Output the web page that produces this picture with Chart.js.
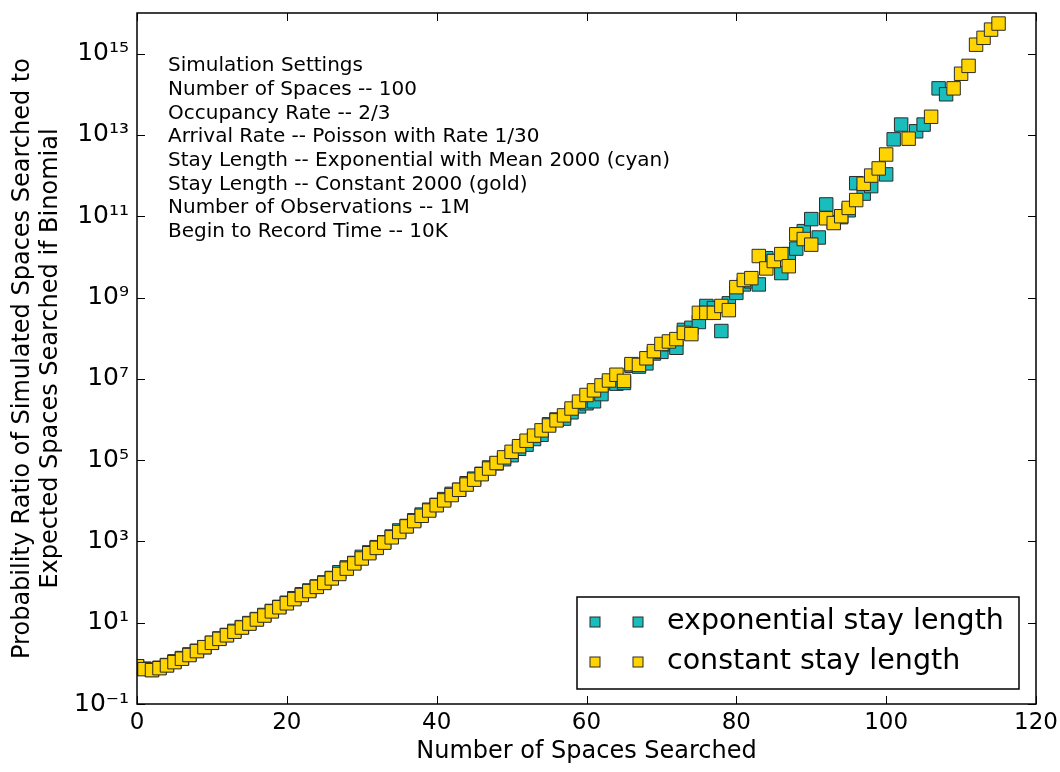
<!DOCTYPE html>
<html><head><meta charset="utf-8">
<script src="https://cdn.jsdelivr.net/npm/chart.js@4.4.1/dist/chart.umd.min.js"></script>
<style>html,body{margin:0;padding:0;background:#fff}#wrap{width:1060px;height:772px;position:relative}</style>
</head><body><div id="wrap"><canvas id="c" width="1060" height="772"></canvas></div>
<script>
// ---- data ----
const spacesSearched = [
  0,1,2,3,4,5,6,7,8,9,10,11,12,13,14,15,16,17,18,19,
  20,21,22,23,24,25,26,27,28,29,30,31,32,33,34,35,36,37,38,39,
  40,41,42,43,44,45,46,47,48,49,50,51,52,53,54,55,56,57,58,59,
  60,61,62,63,64,65,66,67,68,69,70,71,72,73,74,75,76,77,78,79,
  80,81,82,83,84,85,86,87,88,89,90,91,92,93,94,95,96,97,98,99,
  100,101,102,103,104,105,106,107,108,109,110,111,112,113,114,115
];
const exponentialStay = [
  0.85,0.74,0.69,0.78,0.91,1.12,1.35,1.66,2.04,2.5,3.2,4.1,5.0,6.3,7.8,9.8,12.3,15.5,19.5,24.5,
  31,40,50,62,78,98,126,174,229,295,417,537,724,955,1320,1860,2400,3310,4570,6030,
  7940,1.1e4,1.48e4,1.86e4,2.7e4,3.5e4,4.6e4,6.6e4,8.3e4,1.05e5,1.32e5,1.9e5,2.4e5,3.3e5,4.2e5,7.6e5,1.0e6,1.05e6,1.5e6,2.1e6,
  2.5e6,2.8e6,4.2e6,7.9e6,7.6e6,7.9e6,2.1e7,2.0e7,2.4e7,4.2e7,4.6e7,7.1e7,5.8e7,1.6e8,1.8e8,2.5e8,6.2e8,5.5e8,1.5e8,7.2e8,
  1.3e9,2.1e9,2.5e9,2.1e9,9.3e9,7.9e9,4.0e9,1.17e10,1.6e10,4.3e10,8.5e10,3.0e10,1.95e11,7.1e10,9.5e10,1.4e11,6.5e11,3.6e11,5.5e11,null,
  1.07e12,7.8e12,1.8e13,null,1.23e13,1.8e13,null,1.4e14,1.0e14,null,null,null,null,null,null,null
];
const constantStay = [
  0.85,0.72,0.68,0.76,0.89,1.07,1.3,1.6,2.0,2.5,3.2,4.0,4.9,6.0,7.6,9.5,12,15,19,24,
  30,38,48,60,76,95,123,158,214,288,380,513,692,933,1260,1700,2340,3160,4270,5750,
  7760,1.02e4,1.38e4,1.86e4,2.5e4,3.3e4,4.5e4,6.2e4,8.5e4,1.17e5,1.6e5,2.2e5,3.0e5,4.0e5,5.4e5,7.1e5,9.5e5,1.26e6,1.86e6,2.75e6,
  4.0e6,5.2e6,6.9e6,9.1e6,1.26e7,8.9e6,2.3e7,2.2e7,3.2e7,4.8e7,7.2e7,8.3e7,9.5e7,1.35e8,1.26e8,4.2e8,4.2e8,4.2e8,6.2e8,4.9e8,
  1.8e9,2.7e9,3.0e9,1.05e10,5.2e9,7.9e9,1.17e10,5.9e9,3.6e10,2.75e10,2.0e10,null,8.9e10,6.8e10,1.0e11,1.6e11,2.5e11,6.3e11,1.0e12,1.5e12,
  3.3e12,null,null,8.1e12,null,null,2.8e13,null,null,1.4e14,3.2e14,5.0e14,1.66e15,2.45e15,3.9e15,5.5e15
];
const seriesLabels = ['exponential stay length', 'constant stay length'];
const xTickValues = [0, 20, 40, 60, 80, 100, 120];
const yTickValues = [1e-1, 1e1, 1e3, 1e5, 1e7, 1e9, 1e11, 1e13, 1e15];
const settingsLines = [
  'Simulation Settings',
  'Number of Spaces -- 100',
  'Occupancy Rate -- 2/3',
  'Arrival Rate -- Poisson with Rate 1/30',
  'Stay Length -- Exponential with Mean 2000 (cyan)',
  'Stay Length -- Constant 2000 (gold)',
  'Number of Observations -- 1M',
  'Begin to Record Time -- 10K'
];
const xTitle = 'Number of Spaces Searched';
const yTitle = ['Probability Ratio of Simulated Spaces Searched to', 'Expected Spaces Searched if Binomial'];

// ---- styling ----
const FONT = 'DejaVu Sans';
const CYAN = '#19BDBC';
const GOLD = '#FFD400';
const EDGE = '#2b2b2b';

const SUP = {'0':'\u2070','1':'\u00B9','2':'\u00B2','3':'\u00B3','4':'\u2074','5':'\u2075','6':'\u2076','7':'\u2077','8':'\u2078','9':'\u2079','-':'\u207B'};
function powLabel(v) {
  const e = Math.round(Math.log10(v));
  return '10' + String(e).split('').map(c => SUP[c]).join('');
}
function toPoints(vals) {
  return spacesSearched.map((x, i) => ({ x: x, y: vals[i] }));
}

const framePlugin = {
  id: 'frame',
  afterDraw(chart) {
    const { ctx, chartArea: a, scales } = chart;
    ctx.save();
    ctx.strokeStyle = '#000';
    ctx.lineWidth = 1;
    const tl = 8;
    scales.x.ticks.forEach(t => {
      const px = Math.round(scales.x.getPixelForValue(t.value)) + 0.5;
      ctx.beginPath();
      ctx.moveTo(px, a.bottom); ctx.lineTo(px, a.bottom - tl);
      ctx.moveTo(px, a.top); ctx.lineTo(px, a.top + tl);
      ctx.stroke();
    });
    scales.y.ticks.forEach(t => {
      const py = Math.round(scales.y.getPixelForValue(t.value)) + 0.5;
      ctx.beginPath();
      ctx.moveTo(a.left, py); ctx.lineTo(a.left + tl, py);
      ctx.moveTo(a.right, py); ctx.lineTo(a.right - tl, py);
      ctx.stroke();
    });
    ctx.lineWidth = 1.5;
    ctx.strokeRect(a.left, a.top, a.right - a.left, a.bottom - a.top);

    // settings annotation
    ctx.fillStyle = '#000';
    ctx.font = '20px "' + FONT + '"';
    ctx.textBaseline = 'middle';
    ctx.textAlign = 'left';
    settingsLines.forEach((s, i) => ctx.fillText(s, a.left + 31, a.top + 53 + i * 23.7));

    // legend
    const lx = 577, ly = 597, lw = 442, lh = 92;
    ctx.fillStyle = '#fff';
    ctx.fillRect(lx, ly, lw, lh);
    ctx.lineWidth = 1.5;
    ctx.strokeStyle = '#000';
    ctx.strokeRect(lx, ly, lw, lh);
    ctx.font = '28.5px "' + FONT + '"';
    chart.data.datasets.forEach((ds, i) => {
      const cy = ly + 25 + i * 40;
      [595, 638].forEach(mx => {
        ctx.fillStyle = ds.backgroundColor;
        ctx.fillRect(mx - 5, cy - 5, 10, 10);
        ctx.lineWidth = 1;
        ctx.strokeStyle = EDGE;
        ctx.strokeRect(mx - 5, cy - 5, 10, 10);
      });
      ctx.fillStyle = '#000';
      ctx.fillText(ds.label, 667, cy);
    });
    ctx.restore();
  }
};

new Chart(document.getElementById('c'), {
  type: 'scatter',
  data: {
    datasets: [
      { label: seriesLabels[0], data: toPoints(exponentialStay), backgroundColor: CYAN, borderColor: EDGE,
        borderWidth: 1, pointStyle: 'rect', pointRadius: 9.5, pointHoverRadius: 9.5, order: 1, clip: 0 },
      { label: seriesLabels[1], data: toPoints(constantStay), backgroundColor: GOLD, borderColor: EDGE,
        borderWidth: 1, pointStyle: 'rect', pointRadius: 9.5, pointHoverRadius: 9.5, order: 0, clip: 0 }
    ]
  },
  options: {
    responsive: false,
    animation: false,
    devicePixelRatio: 1,
    layout: { padding: { top: 13, right: 24, left: 0, bottom: 0 } },
    plugins: { legend: { display: false }, tooltip: { enabled: false } },
    scales: {
      x: {
        type: 'linear', min: 0, max: 120,
        afterBuildTicks: s => { s.ticks = xTickValues.map(v => ({ value: v })); },
        afterFit: s => { s.height = 68; s.paddingLeft = 0; s.paddingRight = 0; },
        grid: { display: false, drawTicks: false },
        border: { display: false },
        ticks: { color: '#000', font: { family: FONT, size: 23 }, padding: 5, maxRotation: 0 },
        title: { display: true, text: xTitle, color: '#000', font: { family: FONT, size: 24 }, padding: { top: 0, bottom: 6 } }
      },
      y: {
        type: 'logarithmic', min: 0.1, max: 1e16,
        afterBuildTicks: s => { s.ticks = yTickValues.map(v => ({ value: v })); },
        afterFit: s => { s.width = 137; s.paddingTop = 0; s.paddingBottom = 0; },
        grid: { display: false, drawTicks: false },
        border: { display: false },
        ticks: { color: '#000', font: { family: FONT, size: 25 }, padding: 8, callback: v => powLabel(v) },
        title: { display: true, text: yTitle, color: '#000', font: { family: FONT, size: 24, lineHeight: 1.2 }, padding: { top: 8, bottom: 0 } }
      }
    }
  },
  plugins: [framePlugin]
});
</script>
</body></html>
